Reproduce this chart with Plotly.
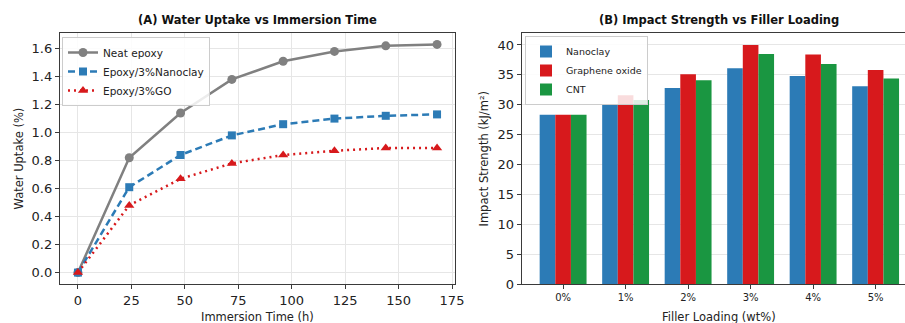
import plotly.graph_objects as go

# ---- Data ----
time_h = [0, 24, 48, 72, 96, 120, 144, 168]
neat_epoxy = [0.0, 0.82, 1.14, 1.38, 1.51, 1.58, 1.62, 1.63]
epoxy_nanoclay = [0.0, 0.61, 0.84, 0.98, 1.06, 1.10, 1.12, 1.13]
epoxy_go = [0.0, 0.48, 0.67, 0.78, 0.84, 0.87, 0.89, 0.89]

loadings = ["0%", "1%", "2%", "3%", "4%", "5%"]
nanoclay = [28.3, 30.0, 32.8, 36.1, 34.8, 33.1]
graphene_oxide = [28.3, 31.6, 35.1, 40.0, 38.4, 35.8]
cnt = [28.3, 30.8, 34.1, 38.5, 36.8, 34.4]

W, H = 905, 323
FONT = "DejaVu Sans"
GRAY = "#808080"
BLUE = "#2c7bb6"
RED = "#d7191c"
GREEN = "#1a9641"
SPINE = "#3a3a3a"
GRID = "#e6e6e6"

def px_x(p):
    return p / W

def px_y(p):
    return 1 - p / H

fig = go.Figure()

# Left panel lines
fig.add_trace(go.Scatter(x=time_h, y=neat_epoxy, name="Neat epoxy", mode="lines+markers",
                         line=dict(color=GRAY, width=2.5),
                         marker=dict(symbol="circle", size=9, color=GRAY),
                         xaxis="x", yaxis="y", legend="legend"))
fig.add_trace(go.Scatter(x=time_h, y=epoxy_nanoclay, name="Epoxy/3%Nanoclay", mode="lines+markers",
                         line=dict(color=BLUE, width=2.5, dash="7px,4px"),
                         marker=dict(symbol="square", size=8, color=BLUE),
                         xaxis="x", yaxis="y", legend="legend"))
fig.add_trace(go.Scatter(x=time_h, y=epoxy_go, name="Epoxy/3%GO", mode="lines+markers",
                         line=dict(color=RED, width=2.5, dash="2px,4px"),
                         marker=dict(symbol="triangle-up", size=9, color=RED),
                         xaxis="x", yaxis="y", legend="legend"))

# Right panel bars
for name, vals, col in [("Nanoclay", nanoclay, BLUE),
                        ("Graphene oxide", graphene_oxide, RED),
                        ("CNT", cnt, GREEN)]:
    fig.add_trace(go.Bar(x=loadings, y=vals, name=name, marker=dict(color=col, line=dict(width=0)),
                         xaxis="x2", yaxis="y2", legend="legend2"))

ydom = [px_y(284), px_y(33)]
axis_common = dict(showline=True, linecolor=SPINE, linewidth=1.3, ticks="outside",
                   ticklen=4, tickwidth=1, tickcolor=SPINE, zeroline=False, automargin=False,
                   tickfont=dict(family=FONT, size=13, color="#222"))

fig.update_layout(
    width=W, height=H,
    margin=dict(l=0, r=0, t=0, b=0),
    paper_bgcolor="white", plot_bgcolor="white",
    font=dict(family=FONT, color="#222"),
    barmode="group", bargap=0.25, bargroupgap=0,
    showlegend=True,
    xaxis=dict(domain=[px_x(60), px_x(455)], range=[-8.4, 176.4], tickvals=[0, 25, 50, 75, 100, 125, 150, 175],
               showgrid=True, gridcolor=GRID, mirror=True, anchor="y", **axis_common),
    yaxis=dict(domain=ydom, range=[-0.0815, 1.7115], tickvals=[0, 0.2, 0.4, 0.6, 0.8, 1.0, 1.2, 1.4, 1.6],
               tickformat=".1f", showgrid=True, gridcolor=GRID, mirror=True, anchor="x", **axis_common),
    xaxis2=dict(domain=[px_x(521.7), 1.0], range=[-0.6625, 5.47], type="category",
                showgrid=False, mirror=True, anchor="y2",
                **{**axis_common, "tickfont": dict(family=FONT, size=10, color="#222")}),
    yaxis2=dict(domain=ydom, range=[0, 42], tickvals=list(range(0, 41, 5)),
                showgrid=True, gridcolor=GRID, mirror=False, anchor="x2", **axis_common),
    legend=dict(x=px_x(62), y=px_y(37), xanchor="left", yanchor="top",
                bgcolor="rgba(255,255,255,0.85)", bordercolor="#cccccc", borderwidth=1,
                font=dict(family=FONT, size=10.5, color="#222"), itemwidth=30, tracegroupgap=0),
    legend2=dict(x=px_x(525), y=px_y(36), xanchor="left", yanchor="top",
                 bgcolor="rgba(255,255,255,0.85)", bordercolor="#cccccc", borderwidth=1,
                 font=dict(family=FONT, size=9.5, color="#222"), itemwidth=30, tracegroupgap=0),
    annotations=[
        dict(text="<b>(A) Water Uptake vs Immersion Time</b>", x=px_x(257.5), y=px_y(20), xref="paper", yref="paper",
             showarrow=False, font=dict(family=FONT, size=11.5, color="#111"), xanchor="center", yanchor="middle"),
        dict(text="<b>(B) Impact Strength vs Filler Loading</b>", x=px_x(719.3), y=px_y(20), xref="paper", yref="paper",
             showarrow=False, font=dict(family=FONT, size=11.5, color="#111"), xanchor="center", yanchor="middle"),
        dict(text="Immersion Time (h)", x=px_x(257.5), y=px_y(316.5), xref="paper", yref="paper",
             showarrow=False, font=dict(family=FONT, size=11.5, color="#222"), xanchor="center", yanchor="middle"),
        dict(text="Water Uptake (%)", x=px_x(18), y=px_y(158.5), xref="paper", yref="paper", textangle=-90,
             showarrow=False, font=dict(family=FONT, size=11.5, color="#222"), xanchor="center", yanchor="middle"),
        dict(text="Filler Loading (wt%)", x=px_x(719.3), y=px_y(316.5), xref="paper", yref="paper",
             showarrow=False, font=dict(family=FONT, size=11.5, color="#222"), xanchor="center", yanchor="middle"),
        dict(text="Impact Strength (kJ/m²)", x=px_x(483.5), y=px_y(159), xref="paper", yref="paper", textangle=-90,
             showarrow=False, font=dict(family=FONT, size=11.5, color="#222"), xanchor="center", yanchor="middle"),
    ],
)

fig.write_html("out.html", config={"displayModeBar": False},
               post_script="document.body.style.margin='0';document.body.style.overflow='hidden';")
